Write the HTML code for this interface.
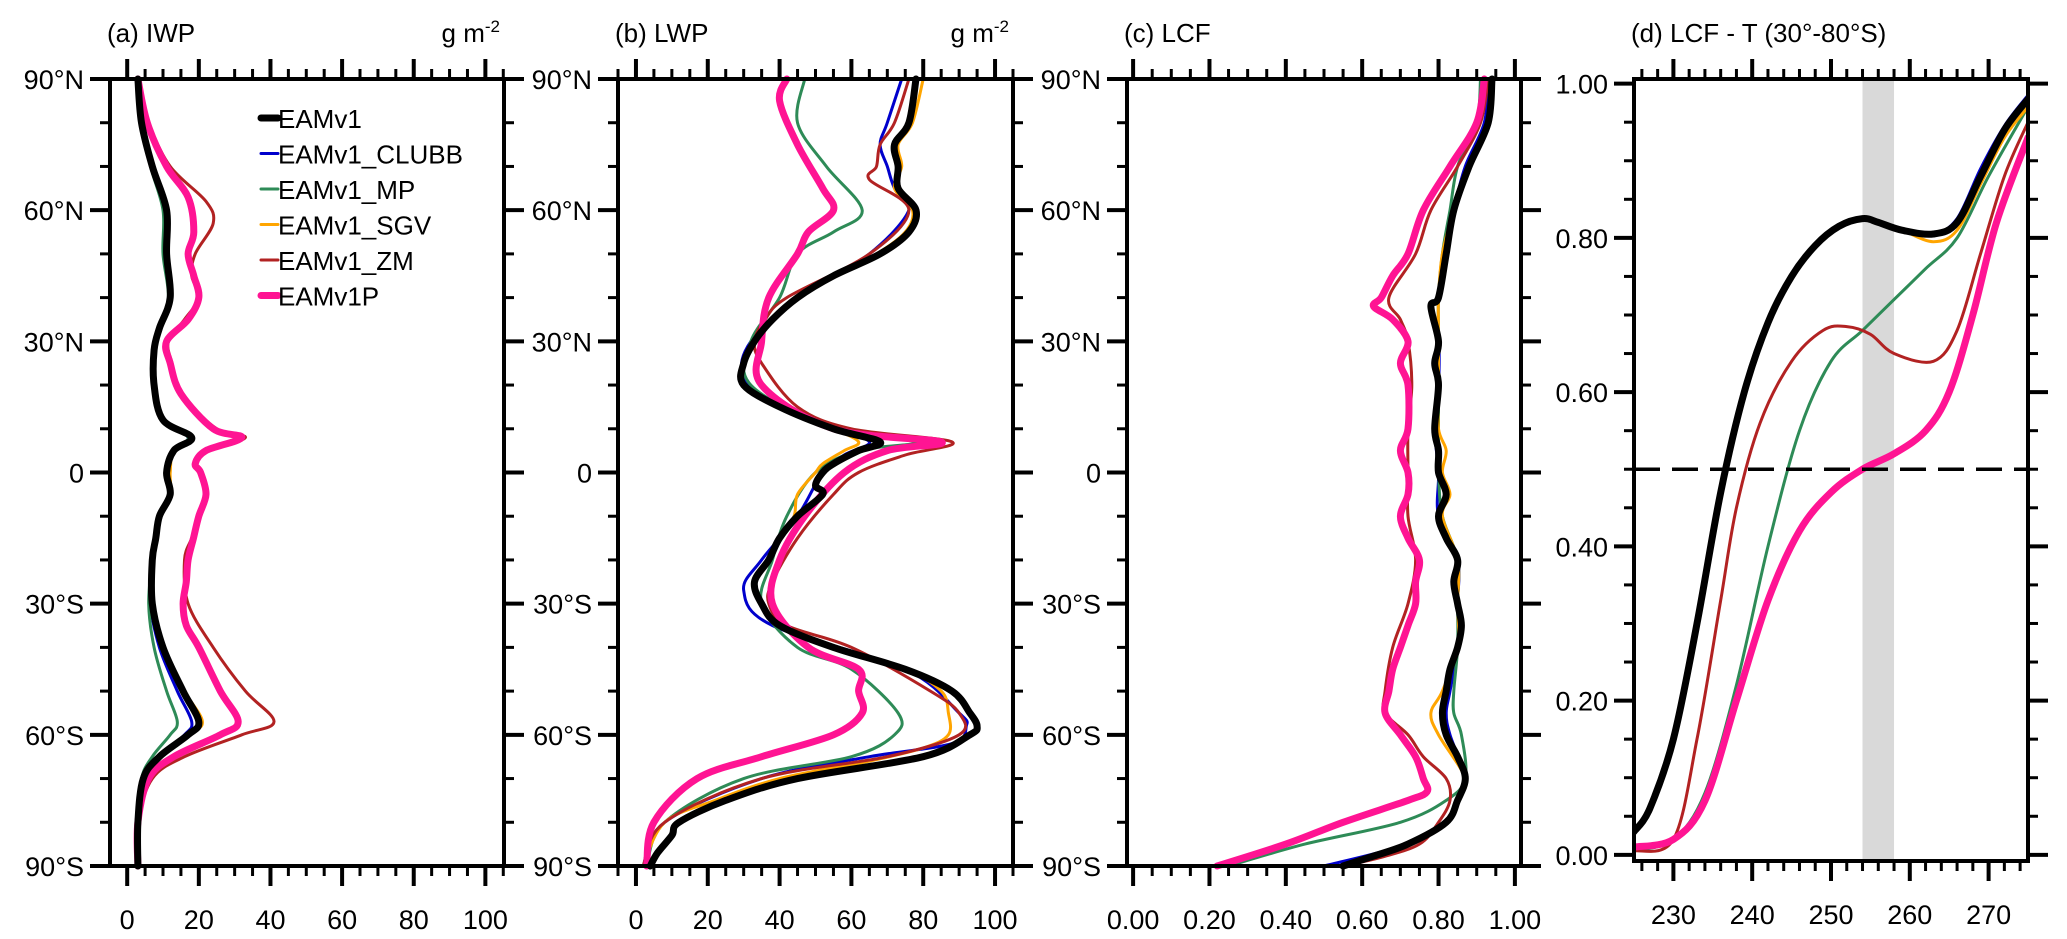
<!DOCTYPE html>
<html><head><meta charset="utf-8"><style>
body{margin:0;background:#fff}
svg{display:block;font-family:"Liberation Sans",sans-serif}
</style></head><body>
<svg id="fig" width="2067" height="939" viewBox="0 0 2067 939" xmlns="http://www.w3.org/2000/svg"></svg>
<script>
// ---------- data ----------
const seriesNames=["EAMv1_CLUBB","EAMv1_MP","EAMv1_SGV","EAMv1_ZM","EAMv1P","EAMv1"];
const seriesColors={"EAMv1":"#000","EAMv1_CLUBB":"#0000cc","EAMv1_MP":"#2e8b57","EAMv1_SGV":"#ffa500","EAMv1_ZM":"#b22222","EAMv1P":"#ff1493"};
const seriesWidths={"EAMv1":7,"EAMv1_CLUBB":3,"EAMv1_MP":3,"EAMv1_SGV":3,"EAMv1_ZM":3,"EAMv1P":7};
const legendOrder=["EAMv1","EAMv1_CLUBB","EAMv1_MP","EAMv1_SGV","EAMv1_ZM","EAMv1P"];

// Panel a: IWP [lat, value]
const iwpBlack=[[90,3],[80,4],[70,7],[60,11],[50,11],[40,12],[33,9],[28,7.5],[20,7.5],[12,10],[8,18],[5,13],[0,11],[-5,12],[-10,9],[-15,8],[-20,7],[-30,7],[-40,10],[-50,15.6],[-57,20],[-60,17],[-65,9],[-70,4.5],[-80,3],[-90,3]];
const iwpBlue=[[90,3],[80,4],[70,7],[60,11],[50,11],[40,12],[33,9],[28,7.5],[20,7.5],[12,10],[8,17],[5,13],[0,11],[-5,12],[-10,9],[-15,8],[-20,7],[-30,6.5],[-40,9],[-50,14],[-57,18],[-60,16],[-65,9],[-70,4.5],[-80,3],[-90,3]];
const iwpGreen=[[90,3],[80,4],[70,6.5],[60,10],[50,10],[40,11.5],[33,9],[28,7.5],[20,7.5],[12,10],[8,17],[5,13],[0,11],[-5,12],[-10,9],[-15,8],[-20,7],[-30,6],[-40,7.5],[-50,11],[-57,14],[-60,12],[-65,7],[-70,4],[-80,3],[-90,3]];
const iwpOrange=[[90,3],[80,4],[70,7],[60,11],[50,11],[40,12],[33,9],[28,7.5],[20,7.5],[12,10],[8,18],[5,13],[0,12],[-5,12],[-10,9],[-15,8],[-20,7],[-30,7],[-40,10],[-50,16],[-57,21],[-60,17],[-65,9],[-70,4.5],[-80,3],[-90,3]];
const iwpRed=[[90,3],[80,6],[70,12],[62,22],[57,24],[50,19],[45,18],[40,20],[35,16],[30,11.5],[25,12.5],[18,15],[10,25],[8,33],[5,23],[2,19],[0,20],[-5,22],[-10,20],[-15,18],[-20,16],[-30,17],[-40,24],[-50,33],[-57,41],[-60,32],[-65,16],[-70,7],[-80,3],[-90,3]];
const iwpPink=[[90,3],[80,5.6],[70,11],[63,17],[55,18.6],[50,17],[45,18.6],[40,20],[35,17],[30,11],[25,12],[18,15],[10,24],[8,32],[5,22],[2,19],[0,20.5],[-5,22],[-10,20],[-15,18.5],[-20,17],[-25,16.5],[-30,15.6],[-35,16.5],[-40,20],[-50,26],[-57,31],[-60,26],[-65,13],[-70,6],[-80,3],[-90,3]];

// Panel b: LWP
const lwpBlack=[[90,78],[80,76],[75,72],[70,73],[65,73],[60,78],[55,76],[50,68],[45,55],[40,45],[35,38],[30,33],[25,30],[20,30],[15,40],[10,55],[7,68],[5,62],[2,55],[0,52],[-3,50],[-5,52],[-10,45],[-15,40],[-20,37],[-25,33],[-30,35],[-35,40],[-40,55],[-45,75],[-50,88],[-55,93],[-58,95],[-60,93],[-65,80],[-70,45],[-75,25],[-80,12],[-83,10],[-87,6],[-90,4]];
const lwpBlue=[[90,74],[80,70],[75,68],[70,70],[65,72],[60,76],[50,65],[40,45],[30,32],[22,30],[15,40],[10,55],[7,65],[4,58],[0,52],[-10,45],[-20,35],[-27,30],[-35,38],[-45,75],[-55,90],[-58,92],[-62,88],[-65,65],[-70,35],[-80,8],[-90,2]];
const lwpGreen=[[90,47],[80,45],[70,53],[60,63],[55,55],[50,45],[40,40],[30,32],[20,32],[10,55],[7,78],[5,62],[0,50],[-10,42],[-20,38],[-30,35],[-40,45],[-45,60],[-55,73],[-60,72],[-65,60],[-70,30],[-80,8],[-90,3]];
const lwpOrange=[[90,80],[80,77],[75,73],[70,74],[65,72],[60,77],[55,75],[50,67],[45,55],[40,45],[35,38],[30,33],[25,30],[20,30],[15,40],[10,55],[7,62],[5,58],[2,52],[0,50],[-5,45],[-10,44],[-15,40],[-20,37],[-25,33],[-30,35],[-35,40],[-40,55],[-45,75],[-50,85],[-55,87],[-60,87],[-63,80],[-66,65],[-70,40],[-75,22],[-80,8],[-90,2]];
const lwpRed=[[90,76],[80,72],[75,68],[70,67],[67,65],[60,76],[50,65],[40,42],[35,36],[30,33],[25,35],[15,45],[10,60],[7,88],[4,75],[0,62],[-5,55],[-15,45],[-25,38],[-30,37],[-35,42],[-40,60],[-50,82],[-55,90],[-60,90],[-65,70],[-70,35],[-80,8],[-90,2]];
const lwpPink=[[90,42],[85,40],[75,45],[65,52],[60,55],[55,48],[50,45],[40,37],[30,35],[20,35],[10,55],[7,85],[5,70],[0,58],[-10,47],[-20,40],[-30,38],[-40,48],[-45,62],[-50,62],[-55,63],[-60,55],[-65,35],[-70,17],[-80,5],[-90,3]];

// Panel c: LCF
const lcfBlack=[[90,0.94],[80,0.93],[70,0.88],[60,0.84],[50,0.82],[40,0.80],[38,0.78],[30,0.80],[25,0.79],[20,0.80],[10,0.79],[5,0.80],[0,0.80],[-5,0.82],[-10,0.80],[-15,0.82],[-20,0.85],[-25,0.84],[-30,0.85],[-35,0.86],[-40,0.85],[-45,0.83],[-50,0.82],[-55,0.81],[-60,0.82],[-65,0.85],[-70,0.87],[-75,0.85],[-80,0.82],[-85,0.72],[-88,0.62],[-90,0.55]];
const lcfBlue=[[90,0.93],[80,0.92],[70,0.87],[60,0.84],[50,0.82],[40,0.80],[38,0.78],[30,0.80],[20,0.80],[10,0.79],[0,0.80],[-10,0.80],[-20,0.85],[-30,0.85],[-40,0.85],[-50,0.83],[-55,0.82],[-60,0.83],[-70,0.87],[-75,0.85],[-80,0.82],[-85,0.72],[-90,0.50]];
const lcfGreen=[[90,0.91],[80,0.90],[70,0.85],[60,0.83],[50,0.81],[40,0.80],[30,0.80],[20,0.80],[10,0.80],[0,0.80],[-10,0.81],[-20,0.85],[-30,0.85],[-40,0.85],[-50,0.84],[-55,0.84],[-60,0.86],[-70,0.87],[-75,0.82],[-80,0.70],[-85,0.45],[-90,0.25]];
const lcfOrange=[[90,0.94],[80,0.93],[70,0.88],[60,0.84],[50,0.81],[40,0.80],[30,0.80],[20,0.80],[10,0.80],[5,0.82],[0,0.81],[-5,0.83],[-10,0.81],[-20,0.85],[-30,0.85],[-40,0.85],[-50,0.81],[-55,0.78],[-60,0.80],[-70,0.87],[-75,0.85],[-80,0.82],[-85,0.72],[-90,0.55]];
const lcfRed=[[90,0.93],[80,0.91],[70,0.85],[60,0.78],[50,0.74],[40,0.67],[35,0.70],[30,0.72],[20,0.73],[10,0.72],[0,0.72],[-10,0.72],[-20,0.74],[-30,0.72],[-40,0.68],[-50,0.66],[-55,0.66],[-60,0.72],[-65,0.76],[-70,0.82],[-75,0.83],[-80,0.80],[-85,0.75],[-88,0.65],[-90,0.55]];
const lcfPink=[[90,0.92],[80,0.90],[70,0.83],[60,0.76],[50,0.72],[45,0.68],[40,0.65],[38,0.63],[35,0.68],[30,0.72],[25,0.70],[20,0.72],[10,0.72],[5,0.70],[0,0.72],[-5,0.72],[-10,0.70],[-15,0.72],[-20,0.75],[-25,0.74],[-30,0.74],[-35,0.72],[-40,0.70],[-45,0.68],[-50,0.67],[-55,0.66],[-60,0.70],[-65,0.74],[-70,0.76],[-73,0.77],[-75,0.72],[-80,0.55],[-85,0.40],[-90,0.22]];

// Panel d: LCF vs T [T, LCF]
const tBlack=[[225,0.03],[227,0.06],[230,0.15],[233,0.30],[236,0.47],[239,0.60],[242,0.69],[245,0.75],[248,0.79],[251,0.815],[254,0.825],[256,0.82],[259,0.81],[263,0.805],[266,0.82],[269,0.88],[272,0.94],[275,0.98]];
const tBlue=[[225,0.03],[227,0.06],[230,0.15],[233,0.30],[236,0.47],[239,0.60],[242,0.69],[245,0.75],[248,0.79],[251,0.815],[254,0.825],[256,0.82],[259,0.81],[263,0.805],[266,0.825],[269,0.89],[272,0.945],[275,0.985]];
const tOrange=[[225,0.03],[227,0.06],[230,0.15],[233,0.30],[236,0.47],[239,0.60],[242,0.69],[245,0.75],[248,0.79],[251,0.815],[254,0.825],[256,0.82],[259,0.81],[263,0.795],[266,0.81],[269,0.87],[272,0.93],[275,0.97]];
const tGreen=[[225,0.005],[230,0.02],[234,0.08],[238,0.22],[242,0.40],[246,0.55],[250,0.64],[254,0.68],[258,0.72],[262,0.76],[266,0.80],[270,0.88],[275,0.97]];
const tRed=[[225,0.005],[230,0.02],[233,0.15],[236,0.33],[238,0.45],[241,0.56],[245,0.64],[249,0.68],[252,0.685],[255,0.675],[258,0.65],[263,0.64],[266,0.68],[269,0.78],[272,0.88],[275,0.95]];
const tPink=[[225,0.01],[230,0.02],[234,0.07],[238,0.20],[242,0.33],[246,0.42],[250,0.47],[254,0.50],[258,0.52],[262,0.55],[265,0.60],[268,0.70],[271,0.82],[275,0.93]];
const shadeRange=[254,258];
const refLine=0.5;

const xTicksAB=["0","20","40","60","80","100"];
const xTicksC=["0.00","0.20","0.40","0.60","0.80","1.00"];
const xTicksD=["230","240","250","260","270"];
const yTicksLat=["90°N","60°N","30°N","0","30°S","60°S","90°S"];
const yTicksD=["0.00","0.20","0.40","0.60","0.80","1.00"];

// ---------- drawing ----------
const svg=document.getElementById('fig');
const NS="http://www.w3.org/2000/svg";
function mk(tag,attrs,parent){const e=document.createElementNS(NS,tag);for(const k in attrs)e.setAttribute(k,attrs[k]);(parent||svg).appendChild(e);return e;}
function smooth(pts){
  let d="M"+pts[0][0].toFixed(1)+","+pts[0][1].toFixed(1);
  for(let i=0;i<pts.length-1;i++){
    const p0=pts[Math.max(0,i-1)],p1=pts[i],p2=pts[i+1],p3=pts[Math.min(pts.length-1,i+2)];
    const c1=[p1[0]+(p2[0]-p0[0])/6,p1[1]+(p2[1]-p0[1])/6];
    const c2=[p2[0]-(p3[0]-p1[0])/6,p2[1]-(p3[1]-p1[1])/6];
    d+=" C"+c1[0].toFixed(1)+","+c1[1].toFixed(1)+" "+c2[0].toFixed(1)+","+c2[1].toFixed(1)+" "+p2[0].toFixed(1)+","+p2[1].toFixed(1);
  }
  return d;
}
function panel(o){
  const g=mk('g',{});
  
  
  const sx=v=>o.L+(v-o.x0)/(o.x1-o.x0)*(o.R-o.L);
  const sy=v=>o.B-(v-o.y0)/(o.y1-o.y0)*(o.B-o.T);
  o.sx=sx;o.sy=sy;
  if(o.pre)o.pre(g,sx,sy);
  // series
  const cp=mk('clipPath',{id:'c'+o.name},g);mk('rect',{x:o.L,y:o.T-6,width:o.R-o.L,height:o.B-o.T+12},cp);
  const sg=mk('g',{'clip-path':'url(#c'+o.name+')'},g);
  seriesNames.forEach(n=>{
    const data=o.series[n];
    const pts=data.map(p=>o.lat?[sx(p[1]),sy(p[0])]:[sx(p[0]),sy(p[1])]);
    const path=mk('path',{d:smooth(pts),fill:'none',stroke:seriesColors[n],'stroke-width':seriesWidths[n],'stroke-linejoin':'round','stroke-linecap':'round'},sg);
    
    
  });
  if(o.post)o.post(g,sx,sy);
  // frame
  const fr=mk('rect',{x:o.L,y:o.T,width:o.R-o.L,height:o.B-o.T,fill:'none',stroke:'#000','stroke-width':4},g);
  
  
  // x ticks
  for(let v=o.xm0;v<=o.x1+1e-9;v+=o.xminor){
    const major=Math.abs(((v-o.xmaj0)/o.xmajor)-Math.round((v-o.xmaj0)/o.xmajor))<1e-6;
    const len=major?20:10,x=sx(v);
    mk('line',{x1:x,x2:x,y1:o.T,y2:o.T-len,stroke:'#000','stroke-width':major?4:3},g);
    mk('line',{x1:x,x2:x,y1:o.B,y2:o.B+len,stroke:'#000','stroke-width':major?4:3},g);
  }
  o.xlabels.forEach((t,i)=>{const v=o.xmaj0+i*o.xmajor;const tx=mk('text',{x:sx(v),y:o.B+63,'font-size':27,'text-anchor':'middle'},g);tx.textContent=t;
    });
  // y ticks
  for(let v=o.ym0;v<=o.y1+1e-9;v+=o.yminor){
    const major=Math.abs(((v-o.ymaj0)/o.ymajor)-Math.round((v-o.ymaj0)/o.ymajor))<1e-6;
    const len=major?20:10,y=sy(v);
    mk('line',{x1:o.L,x2:o.L-len,y1:y,y2:y,stroke:'#000','stroke-width':major?4:3},g);
    mk('line',{x1:o.R,x2:o.R+len,y1:y,y2:y,stroke:'#000','stroke-width':major?4:3},g);
  }
  o.ylabels.forEach((t,i)=>{const v=o.ymaj0+i*o.ymajor;const tx=mk('text',{x:o.L-26,y:sy(v)+10,'font-size':27,'text-anchor':'end'},g);tx.textContent=t;
    });
  // title
  const tt=mk('text',{x:o.L-3,y:42,'font-size':26},g);tt.textContent=o.title;
  
  if(o.units){const u=mk('text',{x:o.R-4,y:42,'font-size':26,'text-anchor':'end'},g);
    u.innerHTML='g m<tspan dy="-10" font-size="17">-2</tspan>';
    }
  return o;
}
const latLabels=yTicksLat.slice().reverse();
const common={lat:true,y0:-90,y1:90,ym0:-90,yminor:10,ymaj0:-90,ymajor:30,ylabels:latLabels};
const a=panel(Object.assign({},common,{name:'panel-a-iwp',title:'(a) IWP',units:true,L:110,R:504,T:79,B:866,x0:-4.8,x1:105.2,xm0:0,xminor:5,xmaj0:0,xmajor:20,xlabels:xTicksAB,
  series:{"EAMv1":iwpBlack,"EAMv1_CLUBB":iwpBlue,"EAMv1_MP":iwpGreen,"EAMv1_SGV":iwpOrange,"EAMv1_ZM":iwpRed,"EAMv1P":iwpPink}}));
panel(Object.assign({},common,{name:'panel-b-lwp',title:'(b) LWP',units:true,L:618,R:1013,T:79,B:866,x0:-5,x1:105,xm0:-5,xminor:5,xmaj0:0,xmajor:20,xlabels:xTicksAB,
  series:{"EAMv1":lwpBlack,"EAMv1_CLUBB":lwpBlue,"EAMv1_MP":lwpGreen,"EAMv1_SGV":lwpOrange,"EAMv1_ZM":lwpRed,"EAMv1P":lwpPink}}));
panel(Object.assign({},common,{name:'panel-c-lcf',title:'(c) LCF',L:1127,R:1521,T:79,B:866,x0:-0.016,x1:1.016,xm0:0,xminor:0.05,xmaj0:0,xmajor:0.2,xlabels:xTicksC,
  series:{"EAMv1":lcfBlack,"EAMv1_CLUBB":lcfBlue,"EAMv1_MP":lcfGreen,"EAMv1_SGV":lcfOrange,"EAMv1_ZM":lcfRed,"EAMv1P":lcfPink}}));
panel({name:'panel-d-lcf-t',title:'(d) LCF - T (30°-80°S)',lat:false,L:1634,R:2028,T:79,B:861,x0:225,x1:275,xm0:226,xminor:2,xmaj0:230,xmajor:10,xlabels:xTicksD,
  y0:-0.008,y1:1.006,ym0:0,yminor:0.05,ymaj0:0,ymajor:0.2,ylabels:yTicksD,
  series:{"EAMv1":tBlack,"EAMv1_CLUBB":tBlue,"EAMv1_MP":tGreen,"EAMv1_SGV":tOrange,"EAMv1_ZM":tRed,"EAMv1P":tPink},
  pre:(g,sx,sy)=>{const r=mk('rect',{x:sx(shadeRange[0]),y:79,width:sx(shadeRange[1])-sx(shadeRange[0]),height:782,fill:'#d9d9d9'},g);
    },
  post:(g,sx,sy)=>{const l=mk('line',{x1:1634,x2:2028,y1:sy(refLine),y2:sy(refLine),stroke:'#000','stroke-width':3.5,'stroke-dasharray':'26,12'},g);
    }
});
// legend in panel a
const lg=mk('g',{});


legendOrder.forEach((n,i)=>{
  const y=118+i*35.5;
  const ln=mk('line',{x1:261,x2:278,y1:y,y2:y,stroke:seriesColors[n],'stroke-width':seriesWidths[n],'stroke-linecap':'round'},lg);
  
  
  const t=mk('text',{x:278,y:y+10,'font-size':26},lg);t.textContent=n;
  
  
});
</script>
</body></html>
